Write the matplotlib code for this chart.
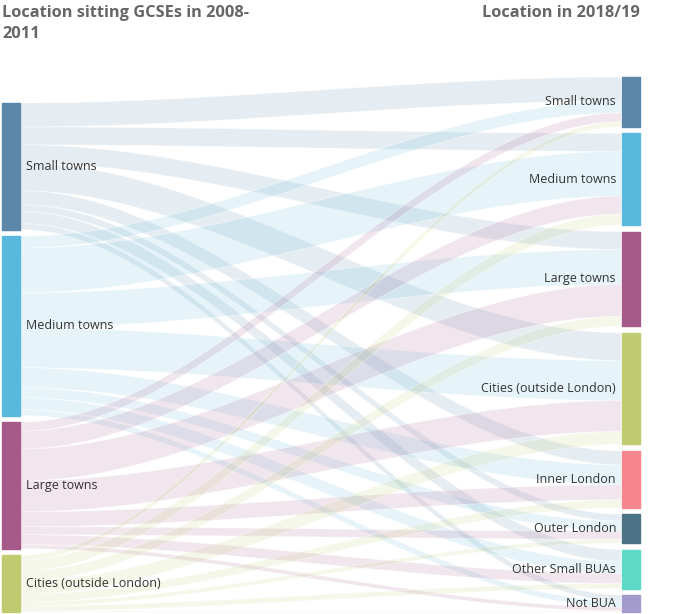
import numpy as np
import matplotlib
matplotlib.use('Agg')
from matplotlib import pyplot as plt
from matplotlib.path import Path
from matplotlib.patches import PathPatch, Rectangle

plt.rcParams['font.family'] = ['Open Sans', 'DejaVu Sans']

sources = ['Small towns', 'Medium towns', 'Large towns', 'Cities (outside London)']
targets = ['Small towns', 'Medium towns', 'Large towns', 'Cities (outside London)',
           'Inner London', 'Outer London', 'Other Small BUAs', 'Not BUA']

# rows = location at GCSE, columns = location in 2018/19 (thousands, estimated)
flows = np.array([
    [24, 18, 18, 28, 14, 7, 12, 6],
    [12, 45, 35, 40, 20, 10, 12, 6],
    [9, 18, 32, 31, 15, 8, 10, 4],
    [5, 11, 10, 13, 8, 4, 5, 1],
])

src_colors = ['#5b87ab', '#5ab8dc', '#a65a8a', '#bfcb6e']
tgt_colors = ['#5b87ab', '#5ab8dc', '#a65a8a', '#bfcb6e',
              '#f7868f', '#4b7285', '#5dd9c5', '#a39bcc']

W, H = 677, 614
fig = plt.figure(figsize=(W / 100, H / 100), dpi=100)
ax = fig.add_axes([0, 0, 1, 1])
ax.set_xlim(0, W)
ax.set_ylim(H, 0)
ax.axis('off')

gap = 6.5
bottom = 612
x_left, x_right, nw = 2, 622, 18

src_tot = flows.sum(axis=1)
tgt_tot = flows.sum(axis=0)
scale = (bottom - 77 - gap * (len(targets) - 1)) / tgt_tot.sum()


def stack(totals):
    h = totals * scale
    top = bottom - h.sum() - gap * (len(totals) - 1)
    tops = []
    for v in h:
        tops.append(top)
        top += v + gap
    return np.array(tops), h


s_top, s_h = stack(src_tot)
t_top, t_h = stack(tgt_tot)

# links, bezier with control points a third of the way in (like highcharts)
s_off = s_top.copy()
t_off = t_top.copy()
x0, x1 = x_left + nw + 1, x_right - 1
c = (x1 - x0) * 0.33
for i in range(len(sources)):
    for j in range(len(targets)):
        w = flows[i, j] * scale
        ya, yb = s_off[i], t_off[j]
        verts = [(x0, ya), (x0 + c, ya), (x1 - c, yb), (x1, yb),
                 (x1, yb + w), (x1 - c, yb + w), (x0 + c, ya + w), (x0, ya + w), (x0, ya)]
        codes = [Path.MOVETO, Path.CURVE4, Path.CURVE4, Path.CURVE4,
                 Path.LINETO, Path.CURVE4, Path.CURVE4, Path.CURVE4, Path.CLOSEPOLY]
        ax.add_patch(PathPatch(Path(verts, codes), facecolor=src_colors[i], alpha=0.15,
                               edgecolor='none'))
        ax.add_patch(PathPatch(Path(verts, codes), facecolor='none',
                               edgecolor=(1, 1, 1, 0.5), lw=0.5))
        s_off[i] += w
        t_off[j] += w

# nodes
for i, name in enumerate(sources):
    ax.add_patch(Rectangle((x_left, s_top[i]), nw, s_h[i], color=src_colors[i]))
    ax.text(x_left + nw + 6, s_top[i] + s_h[i] / 2, name, ha='left', va='center',
            fontsize=9, color='#333333')
for j, name in enumerate(targets):
    ax.add_patch(Rectangle((x_right, t_top[j]), nw, t_h[j], color=tgt_colors[j]))
    ax.text(x_right - 6, t_top[j] + t_h[j] / 2, name, ha='right', va='center',
            fontsize=9, color='#333333')

ax.text(2, 5, 'Location sitting GCSEs in 2008-\n2011', ha='left', va='top',
        fontsize=11.8, fontweight='bold', color='#666666', linespacing=1.45)
ax.text(640, 5, 'Location in 2018/19', ha='right', va='top',
        fontsize=11.8, fontweight='bold', color='#666666')

fig.savefig('out.png', dpi=100)
